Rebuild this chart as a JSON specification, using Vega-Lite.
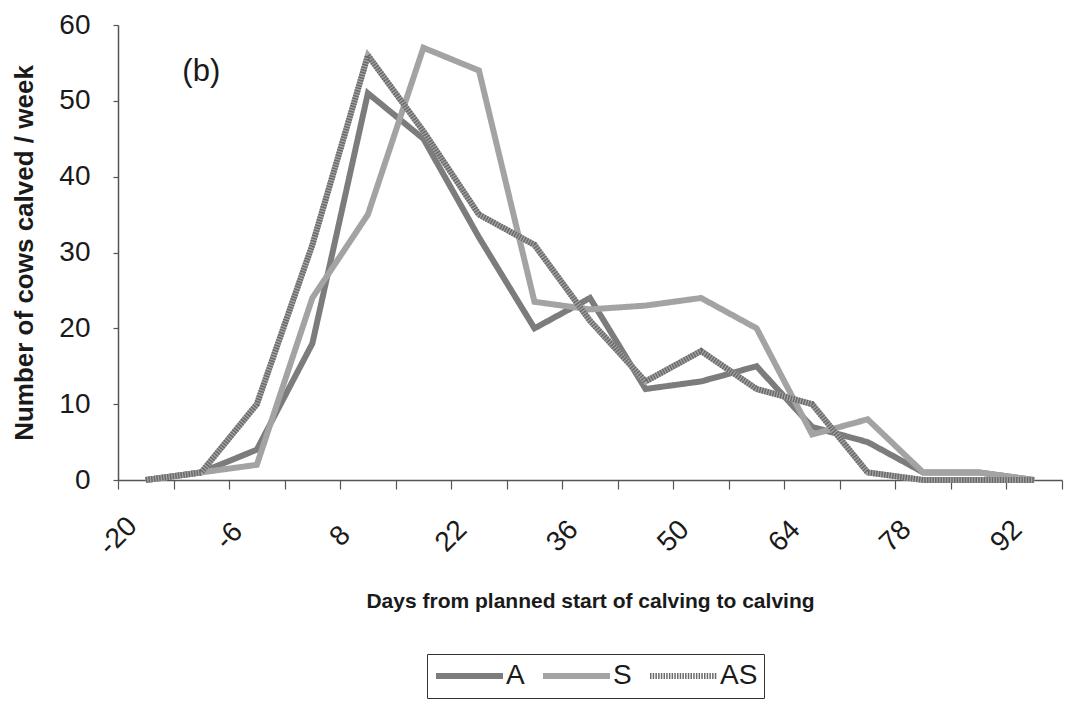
{
  "$schema": "https://vega.github.io/schema/vega-lite/v6.json",
  "width": 944,
  "height": 455,
  "autosize": "none",
  "padding": {"left": 118, "top": 25, "right": 3, "bottom": 226},
  "background": "white",
  "config": {
    "view": {"stroke": null},
    "font": "Liberation Sans",
    "axis": {"labelFont": "Liberation Sans", "titleFont": "Liberation Sans", "labelColor": "#1a1a1a", "titleColor": "#1a1a1a", "domainColor": "#555555", "tickColor": "#555555", "domainWidth": 1.5, "tickWidth": 1.2, "grid": false}
  },
  "data": {
    "values": [
      {"day": -16.5, "series": "A", "cows": 0},
      {"day": -9.5, "series": "A", "cows": 1},
      {"day": -2.5, "series": "A", "cows": 4},
      {"day": 4.5, "series": "A", "cows": 18},
      {"day": 11.5, "series": "A", "cows": 51},
      {"day": 18.5, "series": "A", "cows": 45},
      {"day": 25.5, "series": "A", "cows": 32},
      {"day": 32.5, "series": "A", "cows": 20},
      {"day": 39.5, "series": "A", "cows": 24},
      {"day": 46.5, "series": "A", "cows": 12},
      {"day": 53.5, "series": "A", "cows": 13},
      {"day": 60.5, "series": "A", "cows": 15},
      {"day": 67.5, "series": "A", "cows": 7},
      {"day": 74.5, "series": "A", "cows": 5},
      {"day": 81.5, "series": "A", "cows": 1},
      {"day": 88.5, "series": "A", "cows": 1},
      {"day": 95.5, "series": "A", "cows": 0},
      {"day": -16.5, "series": "S", "cows": 0},
      {"day": -9.5, "series": "S", "cows": 1},
      {"day": -2.5, "series": "S", "cows": 2},
      {"day": 4.5, "series": "S", "cows": 24},
      {"day": 11.5, "series": "S", "cows": 35},
      {"day": 18.5, "series": "S", "cows": 57},
      {"day": 25.5, "series": "S", "cows": 54},
      {"day": 32.5, "series": "S", "cows": 23.5},
      {"day": 39.5, "series": "S", "cows": 22.5},
      {"day": 46.5, "series": "S", "cows": 23},
      {"day": 53.5, "series": "S", "cows": 24},
      {"day": 60.5, "series": "S", "cows": 20},
      {"day": 67.5, "series": "S", "cows": 6},
      {"day": 74.5, "series": "S", "cows": 8},
      {"day": 81.5, "series": "S", "cows": 1},
      {"day": 88.5, "series": "S", "cows": 1},
      {"day": 95.5, "series": "S", "cows": 0},
      {"day": -16.5, "series": "AS", "cows": 0},
      {"day": -9.5, "series": "AS", "cows": 1},
      {"day": -2.5, "series": "AS", "cows": 10},
      {"day": 4.5, "series": "AS", "cows": 31},
      {"day": 11.5, "series": "AS", "cows": 56},
      {"day": 18.5, "series": "AS", "cows": 46},
      {"day": 25.5, "series": "AS", "cows": 35},
      {"day": 32.5, "series": "AS", "cows": 31},
      {"day": 39.5, "series": "AS", "cows": 21},
      {"day": 46.5, "series": "AS", "cows": 13},
      {"day": 53.5, "series": "AS", "cows": 17},
      {"day": 60.5, "series": "AS", "cows": 12},
      {"day": 67.5, "series": "AS", "cows": 10},
      {"day": 74.5, "series": "AS", "cows": 1},
      {"day": 81.5, "series": "AS", "cows": 0},
      {"day": 88.5, "series": "AS", "cows": 0},
      {"day": 95.5, "series": "AS", "cows": 0}
    ]
  },
  "encoding": {
    "x": {
      "field": "day",
      "type": "quantitative",
      "scale": {"domain": [-20, 99], "nice": false, "zero": false},
      "axis": {
        "title": "Days from planned start of calving to calving",
        "values": [-20, -13, -6, 1, 8, 15, 22, 29, 36, 43, 50, 57, 64, 71, 78, 85, 92, 99],
        "labelExpr": "(datum.value + 20) % 14 == 0 ? datum.value : ''",
        "labelAngle": -45,
        "labelAlign": "center",
        "labelBaseline": "middle",
        "labelPadding": 47,
        "labelFontSize": 28,
        "labelOverlap": false,
        "labelFlush": false,
        "tickSize": 9,
        "titleFontSize": 21,
        "titleFontWeight": "bold",
        "titleBaseline": "alphabetic",
        "titleY": 127
      }
    },
    "y": {
      "field": "cows",
      "type": "quantitative",
      "scale": {"domain": [0, 60], "nice": false},
      "axis": {
        "title": "Number of cows calved / week",
        "values": [0, 10, 20, 30, 40, 50, 60],
        "tickSize": 5,
        "labelPadding": 23,
        "labelFontSize": 28,
        "titleFontSize": 26,
        "titleFontWeight": "bold",
        "titleBaseline": "alphabetic",
        "titleX": -86
      }
    }
  },
  "layer": [
    {
      "transform": [{"filter": "datum.series !== 'AS'"}],
      "mark": {"type": "line", "strokeWidth": 6, "strokeJoin": "miter"},
      "encoding": {
        "color": {
          "field": "series",
          "type": "nominal",
          "scale": {"domain": ["A", "S", "AS"], "range": ["#7c7c7c", "#a3a3a3", "#6a6a6a"]},
          "legend": {
            "orient": "none", "legendX": 309, "legendY": 629, "direction": "horizontal", "columns": 3, "gridAlign": "none",
            "title": null, "symbolType": "stroke", "symbolSize": 4489, "symbolStrokeWidth": 6, "clipHeight": 32,
            "labelFontSize": 28, "labelFont": "Liberation Sans", "labelColor": "#1a1a1a", "labelOffset": 0,
            "columnPadding": 15, "padding": 6, "strokeColor": "#333333"
          }
        },
        "strokeDash": {
          "field": "series",
          "type": "nominal",
          "scale": {"domain": ["A", "S", "AS"], "range": [[1, 0], [1, 0], [1.5, 1.2]]},
          "legend": {
            "orient": "none", "legendX": 309, "legendY": 629, "direction": "horizontal", "columns": 3, "gridAlign": "none",
            "title": null, "symbolType": "stroke", "symbolSize": 4489, "symbolStrokeWidth": 6, "clipHeight": 32,
            "labelFontSize": 28, "labelFont": "Liberation Sans", "labelColor": "#1a1a1a", "labelOffset": 0,
            "columnPadding": 15, "padding": 6, "strokeColor": "#333333"
          }
        }
      }
    },
    {
      "transform": [{"filter": "datum.series === 'AS'"}],
      "mark": {"type": "line", "strokeWidth": 6, "strokeJoin": "miter", "color": "#a6a6a6"}
    },
    {
      "transform": [{"filter": "datum.series === 'AS'"}],
      "mark": {"type": "line", "strokeWidth": 6, "strokeJoin": "miter"},
      "encoding": {
        "color": {"field": "series", "type": "nominal"},
        "strokeDash": {"field": "series", "type": "nominal"}
      }
    },
    {
      "data": {"values": [{"day": -9.5, "cows": 53.8, "tag": "(b)"}]},
      "mark": {"type": "text", "fontSize": 31, "font": "Liberation Sans", "color": "#1a1a1a", "align": "center", "baseline": "middle"},
      "encoding": {"text": {"field": "tag"}}
    }
  ]
}
